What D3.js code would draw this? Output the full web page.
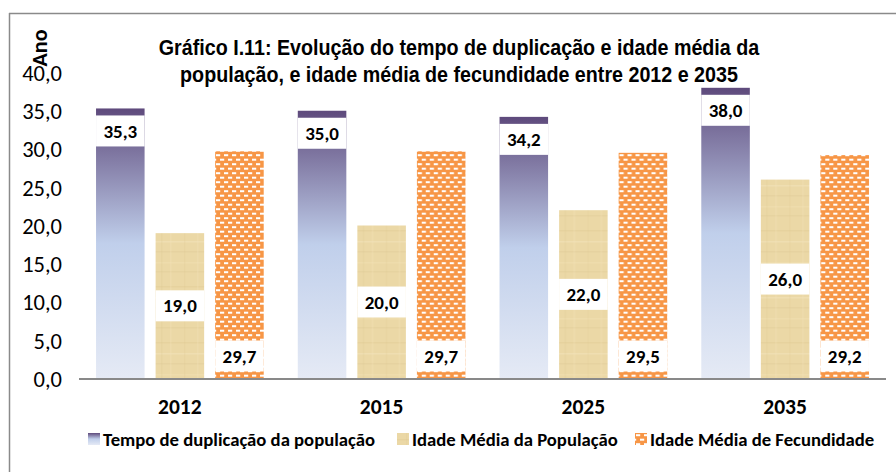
<!DOCTYPE html>
<html>
<head>
<meta charset="utf-8">
<script src="https://cdn.jsdelivr.net/npm/d3@7"></script>
<style>
  html, body { margin: 0; padding: 0; background: #fff; }
  svg { display: block; }
</style>
</head>
<body>
<svg id="chart" width="896" height="472"></svg>
<script>
// ---- data ----
const categories = ["2012", "2015", "2025", "2035"];
const seriesNames = ["Tempo de duplicação da população", "Idade Média da População", "Idade Média de Fecundidade"];
const tempoDuplicacao = [35.3, 35.0, 34.2, 38.0];
const idadeMediaPopulacao = [19.0, 20.0, 22.0, 26.0];
const idadeMediaFecundidade = [29.7, 29.7, 29.5, 29.2];
const yTicks = [0, 5, 10, 15, 20, 25, 30, 35, 40];
const titleLines = ["Gráfico I.11: Evolução do tempo de duplicação e idade média da",
                    "população, e idade média de fecundidade entre 2012 e 2035"];
const yAxisTitle = "Ano";

const seriesValues = [tempoDuplicacao, idadeMediaPopulacao, idadeMediaFecundidade];
const labelPlacement = ["insideEnd", "center", "insideBase"];

const svg = d3.select("#chart");
const W = 896, H = 472;
const plot = { left: 79, right: 886, top: 72.5, bottom: 378.5 };
const calibri = "Carlito, Lato, 'Open Sans', sans-serif";

const locale = d3.formatLocale({ decimal: ",", thousands: ".", grouping: [3], currency: ["", ""] });
const fmt = locale.format(".1f");

// ---- defs: gradient & patterns ----
const defs = svg.append("defs");
const grad = defs.append("linearGradient").attr("id", "gradPurple")
  .attr("x1", 0).attr("y1", 0).attr("x2", 0).attr("y2", 1);
grad.append("stop").attr("offset", "0%").attr("stop-color", "#5e4a7c");
grad.append("stop").attr("offset", "50%").attr("stop-color", "#c0cfeb");
grad.append("stop").attr("offset", "100%").attr("stop-color", "#e5eaf5");

// papyrus-like texture
const tan = defs.append("pattern").attr("id", "patTan").attr("patternUnits", "userSpaceOnUse")
  .attr("width", 48).attr("height", 56);
tan.append("rect").attr("width", 48).attr("height", 56).attr("fill", "#ebd8a6");
const tanLinesH = [[6, "#d6bf89", 0.25], [17, "#f4e5c0", 0.4], [27, "#d3bb85", 0.2], [38, "#f2e1b6", 0.35], [47, "#d6bf89", 0.22]];
tanLinesH.forEach(([yy, c, o]) => tan.append("rect").attr("x", 0).attr("y", yy).attr("width", 48).attr("height", 1.5).attr("fill", c).attr("opacity", o));
const tanLinesV = [[9, "#d9c38d", 0.18], [22, "#f3e3ba", 0.3], [34, "#d6c08a", 0.16], [43, "#f3e2b8", 0.28]];
tanLinesV.forEach(([xx, c, o]) => tan.append("rect").attr("x", xx).attr("y", 0).attr("width", 1.5).attr("height", 56).attr("fill", c).attr("opacity", o));

// orange brick-dash pattern
const org = defs.append("pattern").attr("id", "patOrange").attr("patternUnits", "userSpaceOnUse")
  .attr("width", 8).attr("height", 9);
org.append("rect").attr("width", 8).attr("height", 9).attr("fill", "#f79646");
org.append("rect").attr("x", 1).attr("y", 1.2).attr("width", 4.2).attr("height", 2).attr("fill", "#ffffff");
org.append("rect").attr("x", 5).attr("y", 5.7).attr("width", 4.2).attr("height", 2).attr("fill", "#ffffff");
org.append("rect").attr("x", -3).attr("y", 5.7).attr("width", 4.2).attr("height", 2).attr("fill", "#ffffff");

const fills = ["url(#gradPurple)", "url(#patTan)", "url(#patOrange)"];

// ---- frame ----
svg.append("line").attr("x1", 9).attr("x2", W).attr("y1", 13.5).attr("y2", 13.5)
  .attr("stroke", "#8a8a8a").attr("stroke-width", 1.5);
svg.append("line").attr("x1", 9.5).attr("x2", 9.5).attr("y1", 13).attr("y2", H)
  .attr("stroke", "#8a8a8a").attr("stroke-width", 1.5);

// ---- scales ----
const x0 = d3.scaleBand().domain(categories).range([plot.left, plot.right]).padding(0);
const x1 = d3.scaleBand().domain(d3.range(3)).range([0, x0.bandwidth()])
  .paddingInner(0.185).paddingOuter(0.286);
const y = d3.scaleLinear().domain([0, 40]).range([plot.bottom, plot.top]);

// ---- y axis ----
const yAxis = d3.axisLeft(y).tickValues(yTicks).tickSize(0).tickPadding(0).tickFormat(fmt);
const gy = svg.append("g").attr("transform", "translate(62,0)").call(yAxis);
gy.select(".domain").remove();
gy.selectAll("text").attr("font-family", calibri).attr("font-size", 22.5).attr("fill", "#000").attr("dy", "0.35em");

// ---- bars ----
const labelH = 31, labelGap = 7;
const groups = svg.append("g").selectAll("g").data(categories).join("g")
  .attr("transform", d => `translate(${x0(d)},0)`);

groups.each(function(cat, ci) {
  const g = d3.select(this);
  seriesValues.forEach((vals, si) => {
    const v = vals[ci];
    const bx = x1(si), bw = x1.bandwidth();
    const top = y(v), base = y(0);
    g.append("rect").attr("x", bx).attr("y", top).attr("width", bw).attr("height", base - top)
      .attr("fill", fills[si]);
    let boxTop;
    if (labelPlacement[si] === "insideEnd") boxTop = top + labelGap;
    else if (labelPlacement[si] === "center") boxTop = (top + base) / 2 - labelH / 2;
    else boxTop = base - labelGap - labelH;
    g.append("rect").attr("x", bx).attr("y", boxTop).attr("width", bw).attr("height", labelH).attr("fill", "#fff");
    g.append("text").attr("x", bx + bw / 2).attr("y", boxTop + labelH / 2).attr("dy", "0.35em")
      .attr("text-anchor", "middle").attr("font-family", calibri).attr("font-weight", "bold")
      .attr("font-size", 19).attr("fill", "#000").text(fmt(v));
  });
});

// ---- x axis ----
svg.append("line").attr("x1", plot.left).attr("x2", plot.right).attr("y1", plot.bottom + 0.5).attr("y2", plot.bottom + 0.5)
  .attr("stroke", "#898989").attr("stroke-width", 2);
const xAxis = d3.axisBottom(x0).tickSize(0).tickPadding(0);
const gx = svg.append("g").attr("transform", `translate(0,${plot.bottom})`).call(xAxis);
gx.select(".domain").remove();
gx.selectAll("text").attr("font-family", calibri).attr("font-weight", "bold").attr("font-size", 21.5)
  .attr("fill", "#000").attr("y", 28).attr("dy", "0.35em");

// ---- title (narrow face emulated by horizontal scaling) ----
const titleCx = 459, titleWidth = 601;
const title = svg.append("text").attr("text-anchor", "middle").attr("font-family", "'Liberation Sans Narrow', 'Liberation Sans', Arial, sans-serif")
  .attr("font-weight", "bold").attr("font-size", 22.5).attr("fill", "#000");
const tspans = titleLines.map((t, i) => title.append("tspan").attr("x", 0).attr("y", 55.5 + i * 27).text(t));
const measured = tspans[0].node().getComputedTextLength();
const k = measured > 0 ? titleWidth / measured : 1;
title.attr("transform", `translate(${titleCx},0) scale(${k},1)`);

// ---- y axis title ----
svg.append("text").attr("transform", "translate(47,48) rotate(-90)").attr("text-anchor", "middle")
  .attr("font-family", calibri).attr("font-weight", "bold").attr("font-size", 22).attr("fill", "#000").text(yAxisTitle);

// ---- legend ----
const legendX = [88, 397, 635];
const legend = svg.append("g").selectAll("g").data(seriesNames).join("g")
  .attr("transform", (d, i) => `translate(${legendX[i]},433)`);
legend.append("rect").attr("width", 12).attr("height", 12).attr("fill", (d, i) => fills[i]);
legend.append("text").attr("x", 15).attr("y", 13).attr("font-family", calibri).attr("font-weight", "bold")
  .attr("font-size", 18.7).attr("fill", "#000").text(d => d);
</script>
</body>
</html>
